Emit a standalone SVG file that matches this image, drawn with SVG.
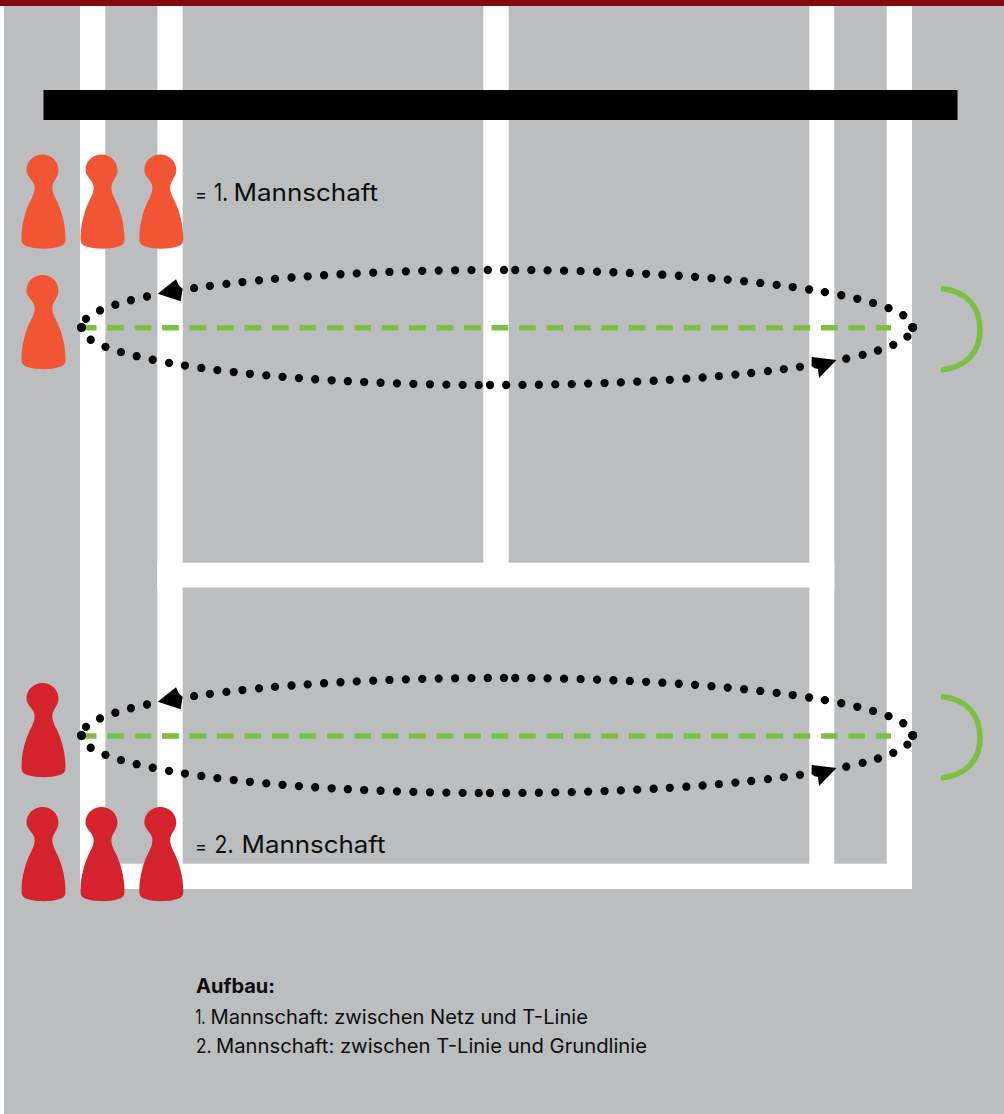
<svg xmlns="http://www.w3.org/2000/svg" width="1004" height="1114" viewBox="0 0 1004 1114">
<style>
.line{fill:#fff}
.dots{fill:none;stroke:#000;stroke-width:8.300;stroke-linecap:round;stroke-dasharray:0 16.35}
.dash{fill:none;stroke:#7AC143;stroke-width:5.500;stroke-dasharray:16.7 10.75}
.goal{fill:none;stroke:#7AC143;stroke-width:5.500}
.t{font-family:"Inter","Noto Sans",sans-serif;fill:#0d0d0d}
.o{fill:#F15533}
.r{fill:#D5232E}
</style>
<defs>
<path id="pawn" d="M-1 0C8 0 15 7 15 15.500C15 22 10.500 25 9 31C8.500 36 9.500 39 12 44C18 55 22 70 22 84C22 89 20 91 16 92C6 95 -6 95 -16 92C-20 91 -22 89 -22 84C-22 70 -18 55 -12 44C-9.500 39 -8.500 36 -9 31C-10.500 25 -17 22 -17 15.500C-17 7 -10 0 -1 0Z"/>
<g id="loop">
<path class="dots" d="M912.700 327.500A415.700 57.500 0 0 0 513 270"/>
<path class="dots" d="M504 270A415.700 57.500 0 0 0 193 288.300"/>
<path class="dots" d="M147 296.500A415.700 57.500 0 0 0 85 319.900"/>
<path class="dots" d="M81.300 327.500A415.700 57.500 0 0 0 480 385"/>
<path class="dots" d="M490 385A415.700 57.500 0 0 0 817 364.200"/>
<path class="dots" d="M846.300 358.700A415.700 57.500 0 0 0 908 336.100"/>
<circle cx="81.500" cy="327.600" r="4.600"/>
<circle cx="912.700" cy="327.600" r="4.600"/>
<path d="M157.700 293.700L176 279.300L179.300 286L182.700 288.700L180.700 301.300Z"/>
<path d="M811.700 357L836.500 360L819 378L818 369L811.500 366Z"/>
</g>
</defs>
<rect x="4" y="0" width="1000" height="1114" fill="#BCBDBF"/>
<g id="court">
<rect class="line" x="80" y="6" width="25.300" height="883"/>
<rect class="line" x="157.300" y="6" width="25.400" height="883"/>
<rect class="line" x="483.300" y="6" width="25.400" height="557"/>
<rect class="line" x="809.300" y="6" width="25" height="883"/>
<rect class="line" x="886.700" y="6" width="25.300" height="883"/>
<rect class="line" x="157.300" y="562.700" width="677" height="24.800"/>
<rect class="line" x="80" y="863.700" width="832" height="25.300"/>
</g>
<rect id="top-bar" x="0" y="0" width="1004" height="6" fill="#840A0E"/>
<rect id="title-bar" x="43.500" y="90" width="914" height="30" fill="#000"/>
<g id="connectors">
<path class="dash" d="M79.800 327.700H891"/>
<path class="dash" d="M79.800 736H891"/>
<use href="#loop"/>
<use href="#loop" y="408"/>
<path class="goal" d="M941 288.500C967 291 980 307 980 329.500C980 352 967 367 941 370"/>
<path class="goal" d="M941 696.500C967 699 980 715 980 737.500C980 760 967 775 941 778"/>
</g>
<g id="team-1">
<use class="o" href="#pawn" x="43.500" y="154.500"/>
<use class="o" href="#pawn" x="102.500" y="154.500"/>
<use class="o" href="#pawn" x="161.300" y="154.500"/>
<use class="o" href="#pawn" x="43.500" y="275"/>
<text class="t" y="201" font-size="24"><tspan x="195" textLength="12" lengthAdjust="spacingAndGlyphs" font-size="19">=</tspan> <tspan x="214" textLength="14" lengthAdjust="spacingAndGlyphs">1.</tspan> <tspan x="233.500" textLength="144.500" lengthAdjust="spacingAndGlyphs">Mannschaft</tspan></text>
</g>
<g id="team-2">
<use class="r" href="#pawn" x="43.500" y="683"/>
<use class="r" href="#pawn" x="43.500" y="807"/>
<use class="r" href="#pawn" x="102.500" y="807"/>
<use class="r" href="#pawn" x="161.300" y="807"/>
<text class="t" y="853" font-size="24"><tspan x="195" textLength="12" lengthAdjust="spacingAndGlyphs" font-size="19">=</tspan> <tspan x="214.500" textLength="19" lengthAdjust="spacingAndGlyphs">2.</tspan> <tspan x="241.500" textLength="144" lengthAdjust="spacingAndGlyphs">Mannschaft</tspan></text>
</g>
<g id="legend">
<text class="t" x="196" y="993" font-size="19.500" font-weight="700" textLength="79" lengthAdjust="spacingAndGlyphs">Aufbau:</text>
<text class="t" y="1024" font-size="19.500"><tspan x="195.500" textLength="10" lengthAdjust="spacingAndGlyphs">1.</tspan> <tspan x="210.500" textLength="377.500" lengthAdjust="spacingAndGlyphs">Mannschaft: zwischen Netz und T-Linie</tspan></text>
<text class="t" y="1053" font-size="19.500"><tspan x="196" textLength="15.500" lengthAdjust="spacingAndGlyphs">2.</tspan> <tspan x="216" textLength="431" lengthAdjust="spacingAndGlyphs">Mannschaft: zwischen T-Linie und Grundlinie</tspan></text>
</g>
</svg>
